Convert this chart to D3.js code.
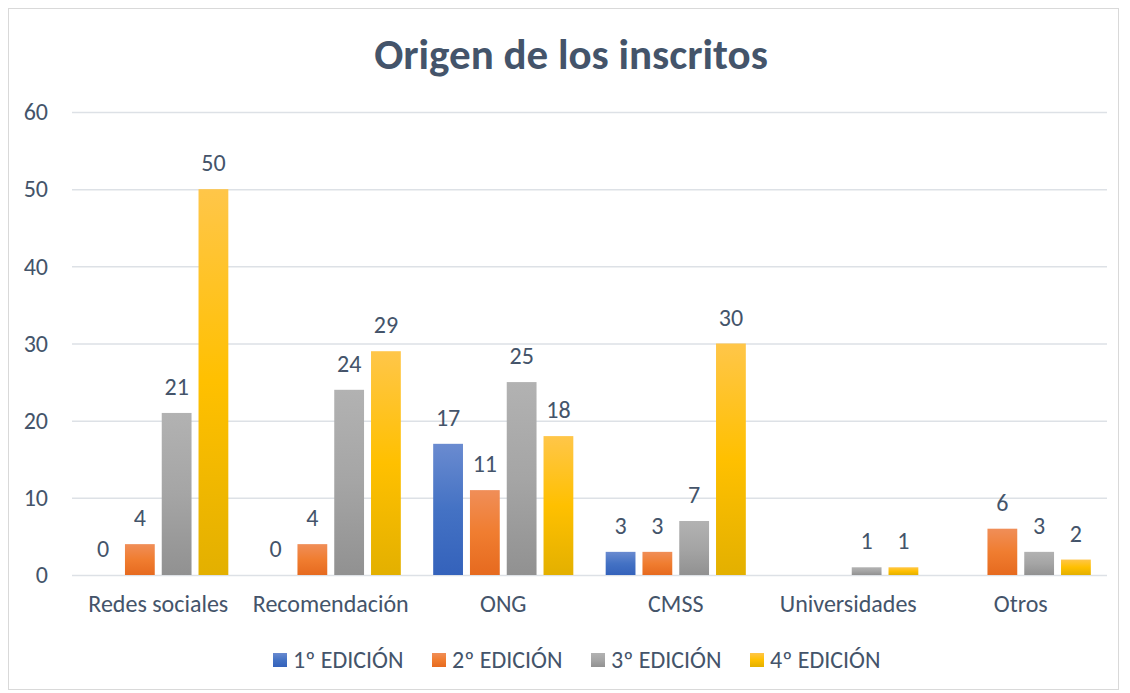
<!DOCTYPE html>
<html>
<head>
<meta charset="utf-8">
<script src="https://cdn.jsdelivr.net/npm/d3@7"></script>
<style>
  body { margin: 0; background: #fff; }
  text { font-family: Calibri, Carlito, "Open Sans", "Noto Sans", sans-serif; }
</style>
</head>
<body>
<div id="chart"></div>
<script>
// data
const categories = ['Redes sociales', 'Recomendación', 'ONG', 'CMSS', 'Universidades', 'Otros'];
const seriesNames = ['1º EDICIÓN', '2º EDICIÓN', '3º EDICIÓN', '4º EDICIÓN'];
const ed1 = [0, 0, 17, 3, null, null];
const ed2 = [4, 4, 11, 3, null, 6];
const ed3 = [21, 24, 25, 7, 1, 3];
const ed4 = [50, 29, 18, 30, 1, 2];
const yTicks = [0, 10, 20, 30, 40, 50, 60];

const seriesValues = [ed1, ed2, ed3, ed4];
// top / middle / bottom shades, like the excel gradient fill
const colors = [
  ['#6a8bd0', '#4472c4', '#3462bb'],
  ['#f08e58', '#f07d30', '#e66a1f'],
  ['#b2b2b2', '#a5a5a5', '#919191'],
  ['#ffc649', '#ffc000', '#e3b000']
];
const textColor = '#44546a';
const fontStack = 'Calibri, Carlito, "Open Sans", sans-serif';

const width = 1130, height = 693;
const margin = { left: 72, right: 23, top: 112, bottom: 118 };

const svg = d3.select('#chart').append('svg')
  .attr('width', width)
  .attr('height', height);

// outer chart border
svg.append('rect')
  .attr('x', 8.5).attr('y', 8.5)
  .attr('width', 1110).attr('height', 681)
  .attr('fill', '#fff')
  .attr('stroke', '#d9d9d9');

const defs = svg.append('defs');
colors.forEach((c, i) => {
  const g = defs.append('linearGradient')
    .attr('id', 'grad' + i)
    .attr('x1', 0).attr('y1', 0).attr('x2', 0).attr('y2', 1);
  g.append('stop').attr('offset', '0%').attr('stop-color', c[0]);
  g.append('stop').attr('offset', '50%').attr('stop-color', c[1]);
  g.append('stop').attr('offset', '100%').attr('stop-color', c[2]);
});

const x0 = d3.scaleBand()
  .domain(categories)
  .range([margin.left, width - margin.right])
  .paddingInner(0)
  .paddingOuter(0);

const x1 = d3.scaleBand()
  .domain(d3.range(seriesNames.length))
  .range([0, x0.bandwidth()])
  .paddingInner(0.19)
  .paddingOuter(0.44);

const y = d3.scaleLinear()
  .domain([0, 60])
  .range([height - margin.bottom, margin.top]);

// title
svg.append('text')
  .attr('x', 571).attr('y', 69)
  .attr('text-anchor', 'middle')
  .attr('font-size', 43)
  .attr('font-weight', 'bold')
  .attr('fill', textColor)
  .text('Origen de los inscritos');

// grid lines + y labels
const yAxis = svg.append('g')
  .attr('transform', 'translate(' + margin.left + ',0)')
  .call(d3.axisLeft(y).tickValues(yTicks)
    .tickSize(-(width - margin.left - margin.right))
    .tickPadding(24));
yAxis.select('.domain').remove();
yAxis.selectAll('line').attr('stroke', '#dde1e6').attr('stroke-width', 1.5);
yAxis.selectAll('text')
  .attr('font-size', 24)
  .attr('fill', textColor)
  .style('font-family', fontStack);

// x labels
const xAxis = svg.append('g')
  .attr('transform', 'translate(0,' + (height - margin.bottom) + ')')
  .call(d3.axisBottom(x0).tickSize(0).tickPadding(20));
xAxis.select('.domain').remove();
xAxis.selectAll('text')
  .attr('font-size', 24)
  .attr('fill', textColor)
  .style('font-family', fontStack);

// bars
const rows = [];
categories.forEach((cat, ci) => {
  seriesValues.forEach((vals, si) => {
    if (vals[ci] !== null) rows.push({ cat: cat, s: si, v: vals[ci] });
  });
});

svg.append('g')
  .selectAll('rect')
  .data(rows)
  .enter()
  .append('rect')
  .attr('x', d => x0(d.cat) + x1(d.s))
  .attr('y', d => y(d.v))
  .attr('width', x1.bandwidth())
  .attr('height', d => y(0) - y(d.v))
  .attr('fill', d => 'url(#grad' + d.s + ')');

// value labels
svg.append('g')
  .selectAll('text')
  .data(rows)
  .enter()
  .append('text')
  .attr('x', d => x0(d.cat) + x1(d.s) + x1.bandwidth() / 2)
  .attr('y', d => y(d.v) - 18)
  .attr('text-anchor', 'middle')
  .attr('font-size', 24)
  .attr('fill', textColor)
  .text(d => d.v);

// legend
const legendX = [273, 432, 591, 750];
const legend = svg.append('g');
seriesNames.forEach((name, i) => {
  const g = legend.append('g').attr('transform', 'translate(' + legendX[i] + ',653)');
  g.append('rect')
    .attr('width', 14).attr('height', 14)
    .attr('fill', 'url(#grad' + i + ')');
  g.append('text')
    .attr('x', 20).attr('y', 15)
    .attr('font-size', 24)
    .attr('fill', textColor)
    .text(name);
});
</script>
</body>
</html>
